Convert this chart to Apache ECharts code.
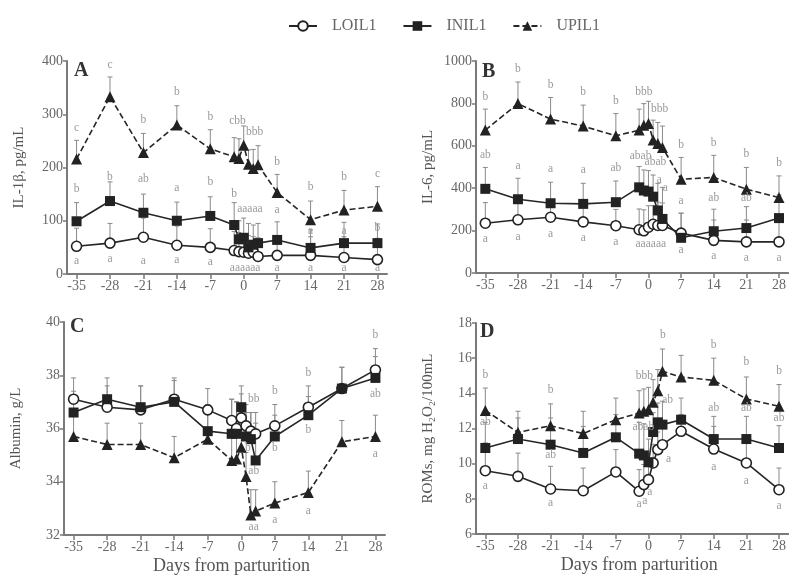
<!DOCTYPE html>
<html><head><meta charset="utf-8">
<script src="https://cdn.jsdelivr.net/npm/echarts@6/dist/echarts.min.js"></script>
<style>html,body{margin:0;padding:0;background:#fff}#c{width:789px;height:577px}</style>
</head><body><div id="c"></div>
<script>
const days = [-35,-28,-21,-14,-7,-2,-1,0,1,2,3,7,14,21,28];
const xTicks = [-35,-28,-21,-14,-7,0,7,14,21,28];
const groups = ['LOIL1','INIL1','UPIL1'];

// Panel A: IL-1beta
const A_LO = [52,58,69,54,50,44,42,41,39,41,33,35,35,31,27];
const A_LO_err = [86,95,105,90,85,80,78,75,72,70,68,62,70,70,67];
const A_IN = [99,137,115,100,109,92,65,68,50,55,58,64,49,58,58];
const A_IN_err = [134,173,150,135,145,134,100,105,95,92,95,98,83,97,94];
const A_UP = [216,333,228,280,235,220,217,242,206,198,205,153,102,120,127];
const A_UP_err = [251,370,264,316,271,256,254,278,233,234,241,187,137,157,164];
const A_letters = [[-35,275,'c'],[-28,392,'c'],[-21,289,'b'],[-14,342,'b'],[-7,295,'b'],[-1.3,287,'cbb'],[2.3,267,'bbb'],[7,211,'b'],[14,164,'b'],[21,183,'b'],[28,187,'c'],
 [-35,159,'b'],[-28,182,'b'],[-21,178,'ab'],[-14,161,'a'],[-7,172,'b'],[-2,150,'b'],[1.3,122,'aaaaa'],[7,120,'a'],[14,81,'a'],[21,81,'a'],[28,86,'b'],
 [-35,24,'a'],[-28,29,'a'],[-21,24,'a'],[-14,26,'a'],[-7,22,'a'],[0.3,11,'aaaaaa'],[7,11,'a'],[14,11,'a'],[21,11,'a'],[28,11,'a']];

// Panel B: IL-6
const B_LO = [235,251,263,241,223,204,199,216,230,224,224,188,154,147,147];
const B_LO_err = [332,330,340,330,300,302,298,317,318,334,330,282,250,250,245];
const B_IN = [397,348,329,326,334,404,389,384,360,295,255,166,197,212,259];
const B_IN_err = [498,447,428,423,434,502,486,483,462,423,404,282,301,313,368];
const B_UP = [674,799,726,693,647,674,697,705,627,611,592,442,451,395,356];
const B_UP_err = [773,901,828,792,752,773,799,810,721,710,693,545,555,498,458];
const B_letters = [[-35,830,'b'],[-28,964,'b'],[-21,886,'b'],[-14,854,'b'],[-7,810,'b'],[-1,854,'bbb'],[2.4,773,'bbb'],[7,603,'b'],[14,611,'b'],[21,560,'b'],[28,520,'b'],
 [-35,556,'ab'],[-28,505,'a'],[-21,489,'a'],[-14,486,'a'],[-7,494,'ab'],[-1.7,553,'abab'],[1.5,522,'abab'],[2.3,439,'a'],[3.6,403,'a'],[7,342,'a'],[14,353,'ab'],[21,353,'ab'],
 [-35,160,'a'],[-28,172,'a'],[-21,183,'a'],[-14,165,'a'],[-7,146,'a'],[0.5,138,'aaaaaa'],[7,107,'a'],[14,82,'a'],[21,71,'a'],[28,71,'a']];

// Panel C: Albumin
const C_LO = [37.1,36.8,36.7,37.1,36.7,36.3,36.0,36.4,36.1,35.9,35.8,36.1,36.8,37.5,38.2];
const C_LO_err = [37.9,37.9,37.6,37.9,37.5,37.1,37.0,37.3,36.9,36.6,36.6,36.9,37.6,38.3,39.0];
const C_IN = [36.6,37.1,36.8,37.0,35.9,35.8,35.8,36.8,35.7,35.6,34.8,35.7,36.5,37.5,37.9];
const C_IN_err = [37.4,37.6,37.6,37.8,36.9,37.1,37.0,37.6,36.6,36.6,36.2,36.5,37.2,38.3,38.7];
const C_UP = [35.7,35.4,35.4,34.9,35.6,34.8,34.85,35.3,34.2,32.75,32.9,33.2,33.6,35.5,35.7];
const C_UP_err = [36.7,36.2,36.2,35.7,36.6,35.7,35.8,36.0,35.1,33.7,33.7,34.0,34.4,36.3,36.5];
const C_letters = [[28,39.5,'b'],[28,37.3,'ab'],[28,35.05,'a'],[14,38.1,'b'],[14,35.95,'b'],[14,32.9,'a'],[7,37.4,'b'],[7,35.25,'b'],[7,32.55,'a'],
 [2.6,37.1,'bb'],[1.4,35.25,'b'],[2.6,34.4,'ab'],[2.6,32.3,'aa']];

// Panel D: ROMs
const D_LO = [9.6,9.28,8.56,8.46,9.53,8.43,8.81,9.09,10.04,10.8,11.08,11.84,10.83,10.04,8.52];
const D_LO_err = [11.18,10.6,9.85,9.75,10.8,9.66,9.95,10.3,11.1,11.8,12.1,12.8,12.12,11.55,9.75];
const D_IN = [10.89,11.4,11.08,10.61,11.5,10.57,10.47,10.08,11.8,12.35,12.22,12.5,11.4,11.4,10.89];
const D_IN_err = [12.35,12.6,12.6,12.12,12.79,12.35,12.27,11.4,12.9,13.45,13.55,13.73,12.69,12.69,12.16];
const D_UP = [13.03,11.78,12.16,11.71,12.5,12.88,12.98,13.07,13.49,14.15,15.25,14.93,14.74,13.68,13.26];
const D_UP_err = [14.3,12.98,13.4,12.98,13.73,14.15,14.25,14.34,14.78,15.35,16.52,16.16,16.0,14.93,14.5];
const D_letters = [[-35,15.06,'b'],[-21,14.2,'b'],[-0.9,15.0,'bbb'],[3.1,17.3,'b'],[14,16.77,'b'],[21,15.76,'b'],[28,15.29,'b'],
 [-35,12.35,'ab'],[-21,10.51,'ab'],[-1.1,12.07,'abab'],[4.1,13.64,'ab'],[14,13.17,'ab'],[21,13.17,'ab'],[28,12.6,'ab'],
 [-35,8.71,'a'],[-21,7.76,'a'],[-2,7.7,'a'],[-0.8,7.9,'a'],[0.3,8.37,'a'],[4.3,10.27,'a'],[14,9.81,'a'],[21,9.0,'a'],[28,7.6,'a']];

const panels = [
  {name:'A', yName:'IL-1β, pg/mL', min:0, max:400, interval:100, grid:{left:67, top:61, width:320, height:213}, vals:[A_LO,A_IN,A_UP], errs:[A_LO_err,A_IN_err,A_UP_err], letters:A_letters, xName:''},
  {name:'B', yName:'IL-6, pg/mL', min:0, max:1000, interval:200, grid:{left:476, top:61, width:320, height:212}, vals:[B_LO,B_IN,B_UP], errs:[B_LO_err,B_IN_err,B_UP_err], letters:B_letters, xName:''},
  {name:'C', yName:'Albumin, g/L', min:32, max:40, interval:2, grid:{left:64, top:322, width:321, height:213}, vals:[C_LO,C_IN,C_UP], errs:[C_LO_err,C_IN_err,C_UP_err], letters:C_letters, xName:'Days from parturition'},
  {name:'D', yName:'ROMs, mg H₂O₂/100mL', min:6, max:18, interval:2, grid:{left:476, top:323, width:320, height:211}, vals:[D_LO,D_IN,D_UP], errs:[D_LO_err,D_IN_err,D_UP_err], letters:D_letters, xName:'Days from parturition'}
];

const SERIF = "'Liberation Serif','Times New Roman',serif";
const axisCol = '#7a7a7a';
const lineCol = '#262626';

const grids = [], xAxes = [], yAxes = [], series = [], graphics = [];
const letterPos = [[74,61],[482,62],[70,317],[480,322]];

panels.forEach((p, i) => {
  grids.push(Object.assign({containLabel:false}, p.grid));
  xAxes.push({
    type:'value', gridIndex:i, min:-37, max:30,
    axisLine:{show:true, onZero:false, lineStyle:{color:axisCol, width:2}},
    axisTick:{show:true, customValues:xTicks, length:5, lineStyle:{color:axisCol, width:1.5}},
    axisLabel:{customValues:xTicks, color:'#666', fontFamily:SERIF, fontSize:14, margin:5},
    splitLine:{show:false},
    name:p.xName, nameLocation:'middle', nameGap:22,
    nameTextStyle:{fontFamily:SERIF, fontSize:18, color:'#555', padding:[0,0,0,14]}
  });
  yAxes.push({
    type:'value', gridIndex:i, min:p.min, max:p.max, interval:p.interval,
    axisLine:{show:true, onZero:false, lineStyle:{color:axisCol, width:2}},
    axisTick:{show:true, length:4, lineStyle:{color:axisCol, width:1.5}},
    axisLabel:{color:'#666', fontFamily:SERIF, fontSize:14, margin:4, formatter:v => String(v)},
    splitLine:{show:false},
    name:p.yName, nameLocation:'middle', nameRotate:90, nameGap:40,
    nameTextStyle:{fontFamily:SERIF, fontSize:15, color:'#555'}
  });
  graphics.push({type:'text', left:letterPos[i][0], top:letterPos[i][1],
    style:{text:p.name, font:"bold 20px " + SERIF, fill:'#333'}});

  // error bars
  p.errs.forEach((errArr, g) => {
    const data = days.map((d, k) => [d, p.vals[g][k], errArr[k]]);
    series.push({
      type:'custom', xAxisIndex:i, yAxisIndex:i, z:1, silent:true,
      data:data, encode:{x:0, y:[1,2]},
      renderItem:function(params, api){
        const base = api.coord([api.value(0), api.value(1)]);
        const top = api.coord([api.value(0), api.value(2)]);
        return {type:'group', children:[
          {type:'line', shape:{x1:base[0], y1:base[1], x2:top[0], y2:top[1]}, style:{stroke:'#8a8a8a', lineWidth:1}},
          {type:'line', shape:{x1:top[0]-2.5, y1:top[1], x2:top[0]+2.5, y2:top[1]}, style:{stroke:'#8a8a8a', lineWidth:1}}
        ]};
      }
    });
  });

  // data lines
  p.vals.forEach((vals, g) => {
    const data = days.map((d, k) => [d, vals[k]]);
    const s = {type:'line', name:groups[g], xAxisIndex:i, yAxisIndex:i, data:data, z:3,
      animation:false, symbolKeepAspect:true};
    if (g === 0) {
      Object.assign(s, {symbol:'circle', symbolSize:10, color:lineCol,
        itemStyle:{color:'#fff', borderColor:'#222', borderWidth:1.6},
        lineStyle:{color:lineCol, width:1.6}});
    } else if (g === 1) {
      Object.assign(s, {symbol:'rect', symbolSize:10, color:lineCol,
        itemStyle:{color:'#222'}, lineStyle:{color:lineCol, width:1.6}});
    } else {
      Object.assign(s, {symbol:'triangle', symbolSize:11, color:lineCol,
        itemStyle:{color:'#222'}, lineStyle:{color:lineCol, width:1.6, type:[6,3]}});
    }
    series.push(s);
  });

  // significance letters
  const letters = p.letters;
  series.push({
    type:'custom', xAxisIndex:i, yAxisIndex:i, z:4, silent:true,
    data:letters.map(l => [l[0], l[1]]), encode:{x:0, y:1},
    renderItem:function(params, api){
      const pt = api.coord([api.value(0), api.value(1)]);
      return {type:'text', x:pt[0], y:pt[1],
        style:{text:letters[params.dataIndex][2], fill:'#9a9a9a', font:"11.5px " + SERIF,
          align:'center', verticalAlign:'middle'}};
    }
  });
});

const chart = echarts.init(document.getElementById('c'), null, {renderer:'canvas'});
chart.setOption({
  animation:false,
  backgroundColor:'#fff',
  grid:grids, xAxis:xAxes, yAxis:yAxes, series:series,
  graphic:graphics,
  legend:{
    data:groups, left:283, top:13, itemWidth:28, itemHeight:12, itemGap:26,
    textStyle:{fontFamily:SERIF, fontSize:16, color:'#666', padding:[0,0,0,10]}
  }
});
</script>
</body></html>
